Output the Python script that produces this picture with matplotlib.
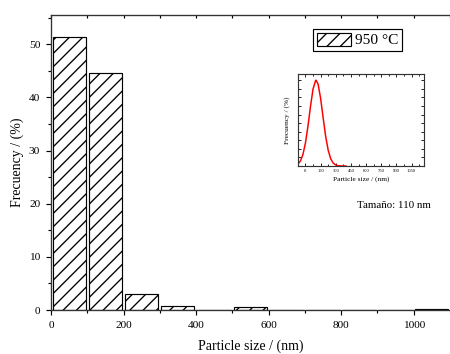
import matplotlib
matplotlib.use('Agg')
import matplotlib.pyplot as plt
from matplotlib.ticker import MultipleLocator, NullFormatter

# histograma de tamaños (bins de 100 nm)
bin_centers = [50, 150, 250, 350, 450, 550, 650, 750, 850, 950, 1050]
frequency = [51.4, 44.5, 3.0, 0.7, 0.0, 0.6, 0.0, 0.0, 0.0, 0.0, 0.2]

# curva de distribucion del recuadro
curve_x = [-75, -50, -25, 0, 25, 50, 75, 100, 105, 125, 150, 175, 200,
           225, 250, 275, 300, 325, 350, 375, 400]
curve_y = [0.022, 0.058, 0.135, 0.271, 0.469, 0.699, 0.899, 0.997, 1.0, 0.954,
           0.787, 0.560, 0.344, 0.182, 0.083, 0.033, 0.011, 0.003, 0.001, 0.0, 0.0]

inset_xticks = [0, 150, 300, 450, 600, 750, 900, 1050]

plt.rcParams['font.family'] = ['Liberation Serif', 'DejaVu Serif']
plt.rcParams['hatch.linewidth'] = 0.8

fig = plt.figure(figsize=(3.75, 2.95), dpi=120)
ax = fig.add_axes([51/450, 1 - 310/354, 1 - 51/450, (310 - 15)/354])

ax.bar(bin_centers, frequency, width=91, color='white', edgecolor='black',
       linewidth=0.7, hatch='///', label='950 °C')

ax.set_xlim(0, 1100)
ax.set_ylim(0, 55.5)
ax.spines['right'].set_visible(False)
ax.spines['top'].set_visible(False)
for s in ['left', 'bottom']:
    ax.spines[s].set_linewidth(0.8)
    ax.spines[s].set_color('#333333')

ax.xaxis.set_major_locator(MultipleLocator(200))
ax.xaxis.set_minor_locator(MultipleLocator(100))
ax.yaxis.set_major_locator(MultipleLocator(10))
ax.yaxis.set_minor_locator(MultipleLocator(5))
ax.tick_params(which='both', direction='out', labelsize=6.8, width=0.7)
ax.tick_params(which='major', length=3)
ax.tick_params(which='minor', length=2)

top = ax.secondary_xaxis('top')
top.xaxis.set_major_locator(MultipleLocator(100))
top.xaxis.set_major_formatter(NullFormatter())
top.tick_params(direction='in', length=2, width=0.7)
top.spines['top'].set_linewidth(0.8)
top.spines['top'].set_color('#333333')

ax.set_xlabel('Particle size / (nm)', fontsize=8.3, labelpad=6)
ax.set_ylabel('Frecuency / (%)', fontsize=8.3, labelpad=3)

leg = ax.legend(loc='upper left', bbox_to_anchor=(313/450, 1 - 29/354),
                bbox_transform=fig.transFigure, borderaxespad=0, fancybox=False,
                edgecolor='black', framealpha=1, fontsize=9.2,
                handlelength=2.2, handleheight=0.9, handletextpad=0.3,
                borderpad=0.25)
leg.get_frame().set_linewidth(0.7)

fig.text(394/450, 1 - 206/354, 'Tamaño: 110 nm', fontsize=6.6,
         ha='center', va='center')

# recuadro
ins = fig.add_axes([297.7/450, 1 - 166/354, (424 - 297.7)/450, (166 - 74)/354])
ins.plot(curve_x, curve_y, color='red', linewidth=0.9)
ins.set_xlim(-77, 1173)
ins.set_ylim(0, 1.073)
ins.set_xticks(inset_xticks)
ins.xaxis.set_minor_locator(MultipleLocator(75))
ins.yaxis.set_major_locator(MultipleLocator(0.1))
ins.yaxis.set_major_formatter(NullFormatter())
ins.tick_params(which='both', direction='in', top=True, right=True,
                labelsize=2.8, width=0.5, pad=1.5)
ins.tick_params(which='major', length=1.6)
ins.tick_params(which='minor', length=1)
for s in ins.spines.values():
    s.set_linewidth(0.7)
    s.set_color('#333333')
ins.set_xlabel('Particle size / (nm)', fontsize=4.4, labelpad=2)
ins.set_ylabel('Frecuency / (%)', fontsize=4.4, labelpad=3)

fig.savefig('out.png', dpi=120)
